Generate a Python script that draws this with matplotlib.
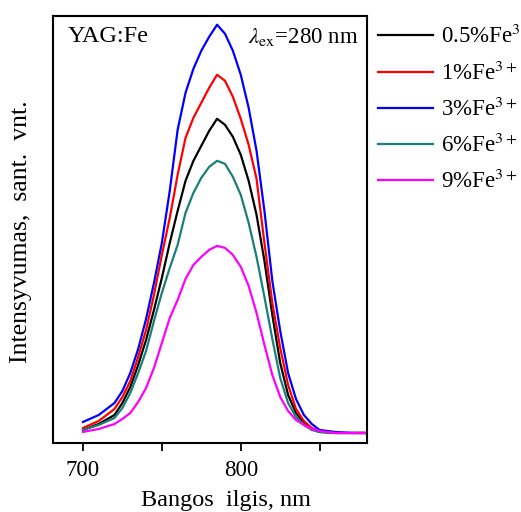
import matplotlib
matplotlib.use("Agg")
import matplotlib.pyplot as plt
from matplotlib.ticker import FixedLocator, NullLocator

plt.rcParams['font.family'] = ['Liberation Serif', 'DejaVu Serif']
plt.rcParams['mathtext.fontset'] = 'stix'

# Wavelength grid (nm) and intensities (arbitrary units)
wavelength = [700, 710, 720, 725, 730, 735, 740, 745, 750, 755, 760, 765, 770,
              775, 780, 785, 790, 795, 800, 805, 810, 815, 820, 825, 830, 835,
              840, 845, 850, 860, 870, 880]
fe_0_5 = [13, 19, 28, 40, 56, 78, 103, 133, 165, 200, 232, 262, 282,
          297, 312, 324, 318, 306, 288, 262, 228, 182, 128, 80, 48, 30,
          20, 14, 11, 10, 10, 10]
fe_1 = [15, 22, 34, 46, 62, 86, 113, 148, 188, 225, 268, 305, 325,
        340, 355, 368, 362, 346, 324, 298, 264, 200, 140, 95, 58, 34,
        22, 15, 12, 10, 10, 10]
fe_3 = [21, 28, 40, 52, 70, 94, 124, 160, 200, 252, 313, 350, 374,
        392, 406, 418, 409, 392, 368, 335, 292, 232, 162, 112, 70, 44,
        28, 19, 13, 11, 10, 10]
fe_6 = [13, 18, 25, 35, 50, 70, 92, 122, 150, 175, 198, 230, 250,
        265, 276, 282, 279, 266, 248, 220, 186, 146, 104, 65, 40, 26,
        18, 13, 11, 10, 10, 10]
fe_9 = [11, 14, 19, 24, 30, 41, 55, 75, 100, 125, 143, 164, 178,
        186, 193, 197, 195, 188, 176, 157, 130, 98, 68, 46, 32, 23,
        18, 14, 12, 10, 10, 10]

series = [fe_0_5, fe_1, fe_3, fe_6, fe_9]
labels = [r'0.5%Fe$^{3+}$', r'1%Fe$^{3+}$', r'3%Fe$^{3+}$',
          r'6%Fe$^{3+}$', r'9%Fe$^{3+}$']
colors = ['#000000', '#ff0000', '#0000ff', '#1a7f7a', '#ff00ff']

# Create figure
fig = plt.figure(figsize=(5.21, 5.12), dpi=100)
ax = fig.add_axes([0.1017, 0.1348, 0.6027, 0.8345])

# Add data
for values, label, color in zip(series, labels, colors):
    ax.plot(wavelength, values, color=color, lw=1.6, label=label)

ax.set_xlim(681, 880)
ax.set_ylim(0, 427)

# Ticks
ax.xaxis.set_major_locator(FixedLocator([700, 800]))
ax.xaxis.set_minor_locator(FixedLocator([750, 850]))
ax.yaxis.set_major_locator(NullLocator())
ax.tick_params(axis='x', which='both', direction='out', length=6, width=1.3,
               labelsize=16.5, pad=6)
for spine in ax.spines.values():
    spine.set_linewidth(1.5)

# Axis labels
ax.set_xlabel('Bangos  ilgis, nm', fontsize=17.5, va='center')
ax.xaxis.set_label_coords(0.551, -0.134)
ax.set_ylabel('Intensyvumas,  sant.  vnt.', fontsize=18.5, va='center')
ax.yaxis.set_label_coords(-0.101, 0.495)

# Annotations
ax.text(0.048, 0.976, 'YAG:Fe', transform=ax.transAxes, fontsize=17.5,
        ha='left', va='top')
ax.text(0.62, 0.976, r'$\lambda_{\rm ex}$=280 nm', transform=ax.transAxes,
        fontsize=16.5, ha='left', va='top')

# Legend
ax.legend(loc='upper left', bbox_to_anchor=(0.725, 0.951),
          bbox_transform=fig.transFigure, frameon=False, fontsize=16.5,
          handlelength=2.4, handletextpad=0.35, labelspacing=0.57,
          borderaxespad=0, borderpad=0)

fig.savefig('out.png', dpi=100)
